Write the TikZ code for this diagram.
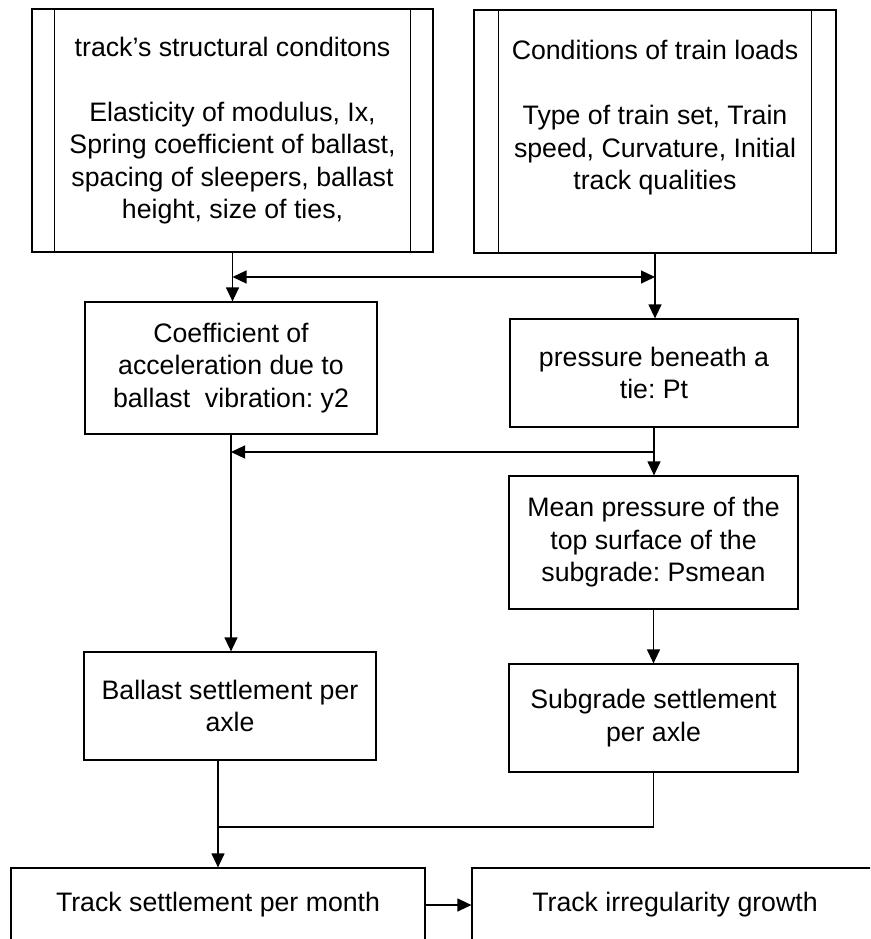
\documentclass[tikz,border=0pt]{standalone}
\usepackage{fontspec}
\setmainfont{Liberation Sans}
\usetikzlibrary{arrows.meta}
\frenchspacing

\tikzset{
  flowbox/.style={draw, line width=1.2pt, align=center, inner sep=0pt},
  inputbox/.style={flowbox, minimum height=243pt},
  link/.style={line width=1.2pt, -{Triangle[length=14pt, width=13pt]}},
  twoway/.style={line width=1.2pt, {Triangle[length=14pt, width=13pt]}-{Triangle[length=14pt, width=13pt]}},
  joint/.style={line width=1.2pt},
}

\begin{document}
\begin{tikzpicture}[x={(1pt,0pt)}, y={(0pt,-1pt)},
                    font=\fontsize{26.7}{32.5}\selectfont, line join=miter]
  \useasboundingbox (0,0) rectangle (870,939);
  \clip (0,0) rectangle (870,939);
  % input conditions, drawn as predefined-process boxes
  \node[inputbox, minimum width=401pt] (track) at (232.5,130.5)
    {track’s structural conditons\\[32.5pt]
     Elasticity of modulus, Ix,\\
     Spring coefficient of ballast,\\
     spacing of sleepers, ballast\\
     height, size of ties,};
  \node[inputbox, minimum width=362pt] (train) at (655,131.5)
    {Conditions of train loads\\[32.5pt]
     Type of train set, Train\\
     speed, Curvature, Initial\\
     track qualities\\ ~};
  \foreach \n/\d in {track/23, train/25} {
    \draw[joint] ([xshift=\d pt]\n.north west) -- ([xshift=\d pt]\n.south west);
    \draw[joint] ([xshift=-\d pt]\n.north east) -- ([xshift=-\d pt]\n.south east);
  }
  % intermediate quantities
  \node[flowbox, minimum width=292pt, minimum height=132pt] (coef) at (231,368)
    {Coefficient of\\ acceleration due to\\ ballast~ vibration: y2};
  \node[flowbox, minimum width=288pt, minimum height=108pt] (press) at (654,373)
    {pressure beneath a\\ tie: Pt};
  \node[flowbox, minimum width=289pt, minimum height=133pt] (mean) at (653.5,542.5)
    {Mean pressure of the\\ top surface of the\\ subgrade: Psmean};
  \node[flowbox, minimum width=292pt, minimum height=108pt] (ballast) at (230,706)
    {Ballast settlement per\\ axle};
  \node[flowbox, minimum width=289pt, minimum height=108pt] (subgrade) at (653.5,718)
    {Subgrade settlement\\ per axle};
  % results
  \node[flowbox, minimum width=414pt, minimum height=74pt] (settle) at (218,905)
    {Track settlement per month};
  \node[flowbox, minimum width=406pt, minimum height=74pt] (irreg) at (675,905)
    {Track irregularity growth};
  % junctions
  \coordinate (jtl) at (track.south |- 0,277);
  \coordinate (jtr) at (train.south |- 0,277);
  \coordinate (jpr) at (press.south |- 0,452);
  \coordinate (jcf) at (coef.south |- 0,452);
  \coordinate (jbs) at (settle.north |- ballast.south);
  \coordinate (jst) at (settle.north |- 0,827);
  % connectors
  \draw[link] (track.south) -- (track.south |- coef.north);
  \draw[twoway] (jtl) -- (jtr);
  \draw[link] (train.south) -- (train.south |- press.north);
  \draw[link] (press.south) -- (press.south |- mean.north);
  \draw[link] (jpr) -- (jcf);
  \draw[link] (coef.south) -- (coef.south |- ballast.north);
  \draw[link] (mean.south) -- (mean.south |- subgrade.north);
  \draw[link] (jbs) -- (settle.north);
  \draw[joint] (subgrade.south) |- (jst);
  \draw[link] (settle.east) -- (irreg.west);
\end{tikzpicture}
\end{document}
